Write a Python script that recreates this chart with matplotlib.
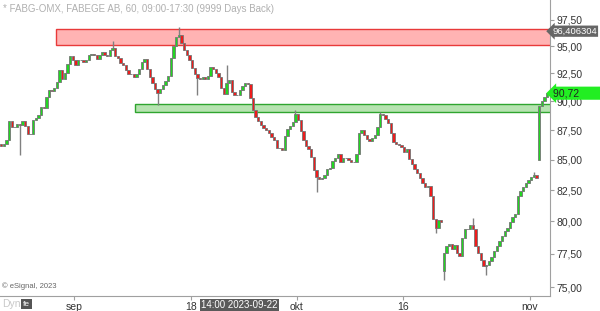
import numpy as np
import matplotlib
matplotlib.use("Agg")
import matplotlib.pyplot as plt
import matplotlib.transforms as mtransforms
from matplotlib.patches import Rectangle
from matplotlib.ticker import FixedLocator, NullLocator

plt.rcParams["font.family"] = ["Liberation Sans", "DejaVu Sans"]

# price data (4 bars per trading day, day 0 = 2023-08-23)
BARS_PER_DAY = 4
closes = [
    86.15, 86.27, 86.62, 88.26, 87.78, 87.72, 88.01, 87.95, 88.24, 87.86,
    87.14, 87.20, 88.33, 88.53, 88.84, 89.50, 89.44, 90.37, 90.96, 90.89,
    91.22, 91.73, 92.81, 91.96, 92.51, 93.38, 94.08, 93.76, 93.27, 93.68,
    93.69, 93.58, 93.75, 94.14, 94.32, 94.18, 93.81, 94.19, 94.47, 94.14,
    94.07, 94.64, 94.86, 94.05, 93.92, 93.47, 93.22, 92.84, 92.47, 92.41,
    92.20, 92.42, 92.93, 93.50, 93.80, 92.87, 92.13, 91.64, 91.06, 90.78,
    91.06, 91.41, 91.77, 92.27, 93.95, 94.97, 95.82, 96.00, 95.31, 94.62,
    94.20, 93.69, 92.97, 92.42, 92.04, 92.00, 92.20, 91.96, 92.27, 93.05,
    92.94, 92.54, 92.18, 91.15, 90.67, 91.59, 91.93, 90.86, 90.60, 90.59,
    90.96, 91.34, 91.64, 91.57, 90.29, 89.21, 88.59, 88.24, 87.94, 87.71,
    87.47, 87.21, 86.87, 86.61, 86.00, 86.00, 85.84, 86.95, 87.59, 87.86,
    88.23, 88.90, 88.33, 87.42, 86.63, 86.14, 85.86, 85.19, 84.15, 83.60,
    83.39, 83.50, 83.76, 84.19, 84.31, 84.85, 85.12, 85.46, 84.84, 85.11,
    85.14, 84.93, 84.83, 84.81, 85.47, 87.26, 87.52, 87.10, 86.74, 86.58,
    86.85, 87.11, 87.80, 88.90, 88.81, 88.43, 88.13, 87.22, 86.50, 86.30,
    86.25, 86.03, 85.67, 85.90, 85.09, 84.63, 84.22, 83.90, 83.50, 83.08,
    82.76, 82.83, 82.03, 80.22, 79.51, 80.09, 79.95, 77.60, 78.08, 78.27,
    77.89, 78.14, 77.58, 77.33, 78.75, 79.42, 79.40, 79.72, 79.38, 78.10,
    77.59, 77.06, 76.55, 76.64, 76.97, 77.28, 77.69, 78.09, 78.51, 78.90,
    79.22, 79.45, 79.99, 80.37, 80.57, 82.06, 82.43, 82.78, 83.08, 83.30,
    83.60, 83.74, 83.48, 89.60, 90.07, 90.39, 90.72,
]
first_open = 86.30
gap_opens = {167: 76.20, 203: 84.95}
extra_highs = {42: 95.45, 67: 96.80, 85: 93.27, 111: 89.23, 143: 89.05, 178: 80.28, 201: 84.00}
extra_lows = {7: 85.39, 59: 89.68, 74: 90.56, 119: 82.35, 164: 79.10, 167: 75.56, 183: 75.93}

tick_days = [7, 18, 28, 38, 50]
tick_labels = ["sep", "18", "okt", "16", "nov"]
price_ticks = [75.0, 77.5, 80.0, 82.5, 85.0, 87.5, 90.0, 92.5, 95.0, 97.5]

red_zone = (95.15, 96.60)
red_zone_start = 5.3
green_zone = (89.05, 89.75)
green_zone_start = 12.75
marker_level = 96.406304
last_price = 90.72
crosshair_day = 22.6
crosshair_label = "14:00 2023-09-22"

# build candles
closes = np.array(closes)
opens = np.concatenate([[first_open], closes[:-1]])
for i, v in gap_opens.items():
    opens[i] = v
highs = np.maximum(opens, closes)
lows = np.minimum(opens, closes)
for i, v in extra_highs.items():
    highs[i] = max(highs[i], v)
for i, v in extra_lows.items():
    lows[i] = min(lows[i], v)
x = (np.arange(len(closes)) + 0.5) / BARS_PER_DAY

fig = plt.figure(figsize=(6, 3.11), dpi=100)
ax = fig.add_axes([0, 15 / 311, 550 / 600, 296 / 311])
ax.set_yscale("log")
ax.set_xlim(0, 51.9)
ax.set_ylim(74.36, 99.4)

# zones
ax.add_patch(Rectangle((red_zone_start, red_zone[0]), 60, red_zone[1] - red_zone[0],
                       facecolor="#ffb3b3", edgecolor="#e83a3a", lw=1.0, zorder=1))
ax.add_patch(Rectangle((green_zone_start, green_zone[0]), 60, green_zone[1] - green_zone[0],
                       facecolor="#b6e3b0", edgecolor="#2fa52f", lw=1.0, zorder=1))

# candles
up = closes >= opens
ax.vlines(x, lows, highs, color="#808080", lw=1.0, zorder=2)
ax.bar(x[up], (closes - opens)[up], bottom=opens[up], width=0.22,
       color="#22d622", edgecolor="#777777", linewidth=0.6, zorder=3)
ax.bar(x[~up], (opens - closes)[~up], bottom=closes[~up], width=0.22,
       color="#ee1c1c", edgecolor="#777777", linewidth=0.6, zorder=3)

# axes styling
for side in ["left", "top"]:
    ax.spines[side].set_visible(False)
for side in ["right", "bottom"]:
    ax.spines[side].set_color("#a0a0a0")
ax.yaxis.tick_right()
ax.yaxis.set_major_locator(FixedLocator(price_ticks))
ax.yaxis.set_minor_locator(NullLocator())
ax.set_yticklabels([f"{v:.2f}".replace(".", ",") for v in price_ticks])
ax.set_xticks(tick_days)
ax.set_xticklabels(tick_labels)
ax.tick_params(axis="both", labelsize=7.5, labelcolor="#333333", color="#a0a0a0",
               length=3, pad=1.5)
ax.tick_params(axis="y", which="minor", length=0)

# price markers on the right
trans = mtransforms.blended_transform_factory(ax.transAxes, ax.transData)
ax.text(1.004, marker_level, "96,406304", transform=trans, fontsize=6.8, color="white",
        va="center", ha="left", zorder=5,
        bbox=dict(boxstyle="larrow,pad=0.12", fc="#666666", ec="none"))
ax.text(1.006, last_price, "90,72       ", transform=trans, fontsize=7.5, color="#222222",
        va="center", ha="left", zorder=5,
        bbox=dict(boxstyle="larrow,pad=0.15", fc="#22ee22", ec="none"))

# crosshair date label
transx = mtransforms.blended_transform_factory(ax.transData, ax.transAxes)
ax.text(crosshair_day, -0.032, crosshair_label, transform=transx, fontsize=7,
        color="white", ha="center", va="center", clip_on=False,
        bbox=dict(boxstyle="square,pad=0.15", fc="#5a5a5a", ec="none"))

# header and footer texts
fig.text(0.005, 1 - 9 / 311, "* FABG-OMX, FABEGE AB, 60, 09:00-17:30 (9999 Days Back)",
         color="#b0b0b0", fontsize=7, va="center")
fig.text(0.004, 25 / 311, "\u00a9 eSignal, 2023", color="#666666", fontsize=5.5, va="center")
fig.text(0.003, 7 / 311, "Dyn", color="#c8c8c8", fontsize=7.5, va="center")
fig.text(23 / 600, 7 / 311, "fe", color="white", fontsize=6, va="center",
         bbox=dict(boxstyle="square,pad=0.2", fc="#555555", ec="none"))

fig.savefig("out.png", dpi=100)
